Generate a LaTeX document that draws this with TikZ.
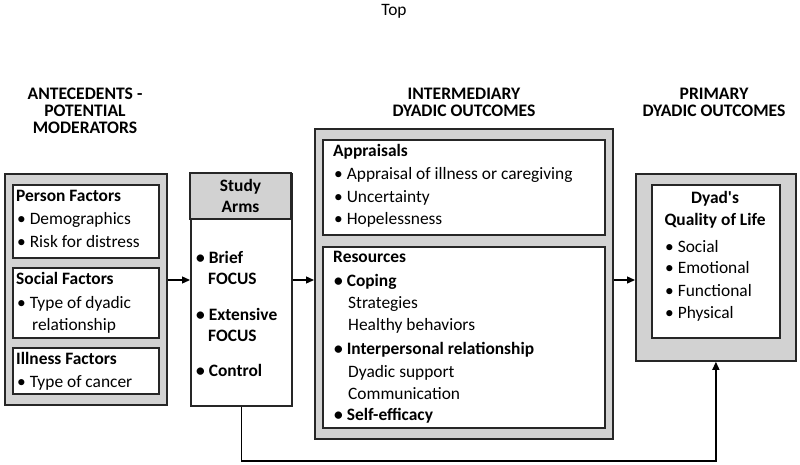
\documentclass[tikz,border=0pt]{standalone}
\usepackage{fontspec}
\setmainfont{Carlito}
\usetikzlibrary{arrows.meta}
\definecolor{boxgray}{RGB}{210,210,210}
\begin{document}
\begin{tikzpicture}[x=1pt,y=-1pt,
  outerbox/.style={draw=black!85,line width=1.8pt,fill=boxgray,rectangle,inner sep=0,anchor=north west},
  innerbox/.style={draw=black!85,line width=1.6pt,fill=white,rectangle,inner sep=0,anchor=north west},
  txt/.style={anchor=base west,inner sep=0,font=\fontsize{17.4}{20}\selectfont},
  btxt/.style={txt,font=\fontsize{17.4}{20}\selectfont\bfseries},
  ctxt/.style={btxt,anchor=base},
  head/.style={anchor=base,inner sep=0,font=\fontsize{17.6}{20}\selectfont\bfseries},
  conn/.style={draw=black,line width=1.3pt,-{Triangle[length=8pt,width=7pt]}}]
\useasboundingbox (0,0) rectangle (800,464);

\node[anchor=base,inner sep=0,font=\fontsize{17.4}{20}\selectfont] (top) at (394,15.5) {Top};

% headers
\node[head] (h1a) at (85,99.5) {ANTECEDENTS -};
\node[head] (h1b) at (85,116.5) {POTENTIAL};
\node[head] (h1c) at (85,133.5) {MODERATORS};
\node[head] (h2a) at (464,99.5) {INTERMEDIARY};
\node[head] (h2b) at (464,116.5) {DYADIC OUTCOMES};
\node[head] (h3a) at (714,99.5) {PRIMARY};
\node[head] (h3b) at (714,116.5) {DYADIC OUTCOMES};

% antecedents
\node[outerbox,minimum width=162,minimum height=231] (ante) at (4,173) {};
\node[innerbox,minimum width=146,minimum height=73] (person) at (12,184) {};
\node[innerbox,minimum width=146,minimum height=70] (social) at (12,267) {};
\node[innerbox,minimum width=146,minimum height=46] (illness) at (12,347) {};
\node[btxt] (pf) at (16,201) {Person Factors};
\node[txt] (pf1) at (17,224) {• Demographics};
\node[txt] (pf2) at (17,247) {• Risk for distress};
\node[btxt] (sf) at (16,284) {Social Factors};
\node[txt] (sf1) at (17,308) {• Type of dyadic};
\node[txt] (sf2) at (32,330) {relationship};
\node[btxt] (if) at (16,364) {Illness Factors};
\node[txt] (if1) at (17,387) {• Type of cancer};

% study arms
\node[innerbox,minimum width=101,minimum height=232] (study) at (190,173) {};
\draw[line width=1.6pt,draw=black!85,fill=boxgray] (study.north west) rectangle (291,219);
\node[ctxt] (sa1) at (240.5,191) {Study};
\node[ctxt] (sa2) at (240.5,212) {Arms};
\node[btxt] (s1) at (196,263) {• Brief};
\node[btxt] (s1b) at (208,284) {FOCUS};
\node[btxt] (s2) at (196,320) {• Extensive};
\node[btxt] (s2b) at (208,341) {FOCUS};
\node[btxt] (s3) at (196,376) {• Control};

% intermediary
\node[outerbox,minimum width=298,minimum height=310] (inter) at (314,128) {};
\node[innerbox,minimum width=282,minimum height=95] (appr) at (322,139) {};
\node[innerbox,minimum width=282,minimum height=181] (reso) at (322,246) {};
\node[btxt] (ap) at (333,156) {Appraisals};
\node[txt] (ap1) at (334,179) {• Appraisal of illness or caregiving};
\node[txt] (ap2) at (334,202) {• Uncertainty};
\node[txt] (ap3) at (334,224) {• Hopelessness};
\node[btxt] (rs) at (333,262) {Resources};
\node[btxt] (rs1) at (334,286) {• Coping};
\node[txt] (rs1a) at (348,308) {Strategies};
\node[txt] (rs1b) at (348,330) {Healthy behaviors};
\node[btxt] (rs2) at (334,354) {• Interpersonal relationship};
\node[txt] (rs2a) at (348,377) {Dyadic support};
\node[txt] (rs2b) at (348,399) {Communication};
\node[btxt] (rs3) at (334,420) {• Self-efficacy};

% primary
\node[outerbox,minimum width=160,minimum height=187] (prim) at (635,173) {};
\node[innerbox,minimum width=128,minimum height=153] (qol) at (651,184) {};
\node[ctxt] (q1) at (715,203) {Dyad\textquotesingle s};
\node[ctxt] (q2) at (715,225) {Quality of Life};
\node[txt] (q3) at (665,252) {• Social};
\node[txt] (q4) at (665,273) {• Emotional};
\node[txt] (q5) at (665,296) {• Functional};
\node[txt] (q6) at (665,318) {• Physical};

% connectors
\coordinate (bot) at (0,461);
\draw[conn] (ante.east |- 0,280) -- (study.west |- 0,280);
\draw[conn] (study.east |- 0,280) -- (inter.west |- 0,280);
\draw[conn] (inter.east |- 0,280) -- (prim.west |- 0,280);
\draw[conn] (study.south) |- (bot -| prim.south) -- (prim.south);
\end{tikzpicture}
\end{document}
